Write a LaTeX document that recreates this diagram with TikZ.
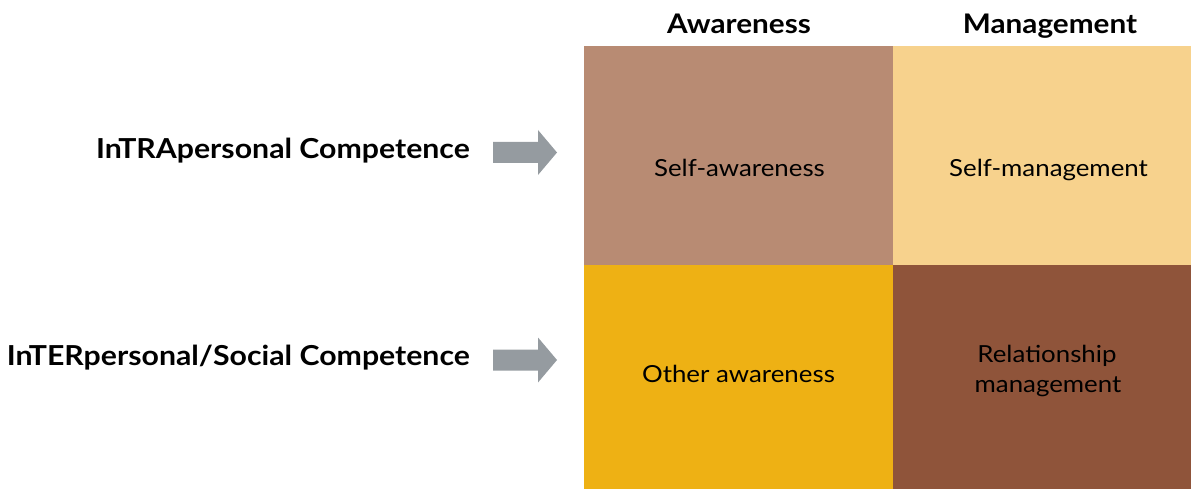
\documentclass[tikz,border=0pt]{standalone}
\usepackage{fontspec}
\setmainfont[FakeStretch=1.1]{Lato}
\usepackage{xcolor}

\definecolor{selfaw}{HTML}{B88B73}
\definecolor{selfman}{HTML}{F7D28D}
\definecolor{otheraw}{HTML}{EEB114}
\definecolor{relman}{HTML}{8F543A}
\definecolor{arrowgray}{HTML}{959BA0}

\tikzset{
  header/.style={font=\fontsize{27}{32}\selectfont\bfseries, anchor=base, inner sep=0pt},
  rowlabel/.style={font=\fontsize{27.5}{32}\selectfont\bfseries, anchor=base east, inner sep=0pt},
  celltext/.style={font=\fontsize{23.5}{28}\selectfont, anchor=base, inner sep=0pt}
}

\begin{document}
\begin{tikzpicture}[x=1pt, y=-1pt]
\useasboundingbox (0,0) rectangle (1191,489);

% the four quadrants
\fill [selfaw] (584,46) rectangle (893,265);
\fill [selfman] (893,46) rectangle (1191,265);
\fill [otheraw] (584,265) rectangle (893,489);
\fill [relman] (893,265) rectangle (1191,489);

\node [header] (aw) at (739,34) {Awareness};
\node [header] (man) at (1050,34) {Management};

\node [rowlabel] (intra) at (470,159) {InTRApersonal Competence};
\node [rowlabel] (inter) at (470,365) {InTERpersonal/Social Competence};

% block arrows
\foreach \y in {152.5,360} {
  \fill [arrowgray] (493,\y-10.5) -- (538,\y-10.5) -- (538,\y-22.5) -- (557,\y)
    -- (538,\y+22.5) -- (538,\y+10.5) -- (493,\y+10.5) -- cycle;
}

\node [celltext] (sa) at (739.5,177) {Self-awareness};
\node [celltext] (sm) at (1048.5,177) {Self-management};
\node [celltext] (oa) at (738.5,382) {Other awareness};
\node [celltext] (rm1) at (1047,362) {Relationship};
\node [celltext] (rm2) at (1048,392) {management};
\end{tikzpicture}
\end{document}
